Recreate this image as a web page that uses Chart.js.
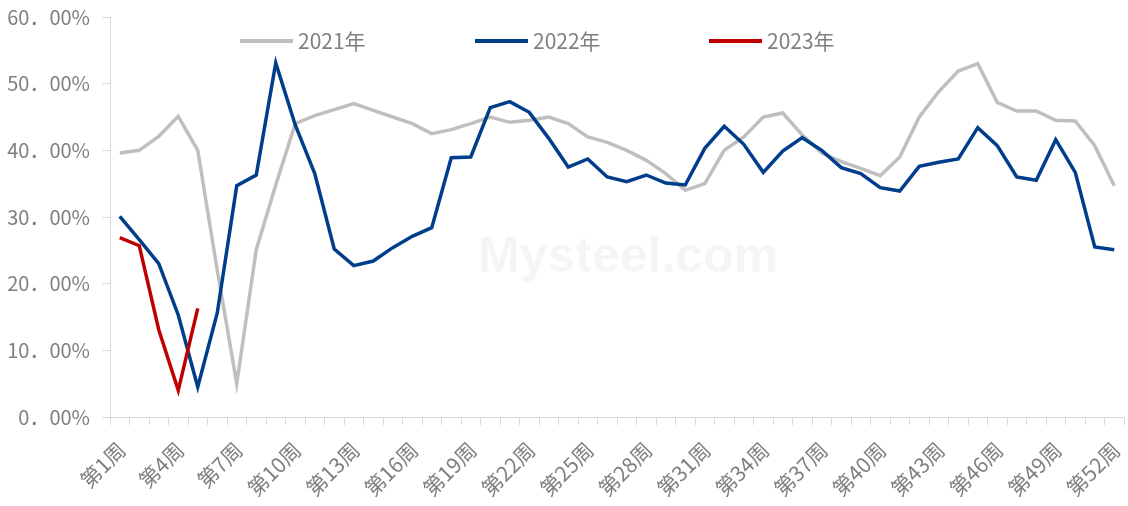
<!DOCTYPE html>
<html>
<head>
<meta charset="utf-8">
<script src="https://cdn.jsdelivr.net/npm/chart.js@4"></script>
<style>
  html, body { margin: 0; padding: 0; background: #fff; }
  #wrap { width: 1128px; height: 506px; }
</style>
</head>
<body>
<div id="wrap"><canvas id="chart"></canvas></div>
<script>
// weeks 1..52
const weeks = [];
for (let i = 1; i <= 52; i++) weeks.push('第' + i + '周');

const series2021 = [39.6, 40.0, 42.1, 45.1, 40.0, 22.0, 5.0, 25.1, 34.8, 44.0,
  45.2, 46.1, 47.0, 46.0, 45.0, 44.0, 42.5, 43.1, 44.0, 45.0,
  44.2, 44.5, 45.0, 44.0, 42.0, 41.2, 40.0, 38.5, 36.5, 34.0,
  35.0, 40.0, 42.0, 45.0, 45.6, 42.3, 39.6, 38.3, 37.3, 36.2,
  39.0, 45.0, 48.8, 51.9, 53.0, 47.2, 45.9, 45.9, 44.5, 44.4,
  40.7, 34.7];
const series2022 = [30.1, 26.6, 23.0, 15.3, 4.5, 15.6, 34.7, 36.3, 53.1, 43.8,
  36.5, 25.2, 22.7, 23.4, 25.4, 27.1, 28.4, 38.9, 39.0, 46.4,
  47.3, 45.7, 41.8, 37.5, 38.7, 36.0, 35.3, 36.3, 35.1, 34.8,
  40.3, 43.6, 40.9, 36.7, 39.9, 41.9, 40.0, 37.4, 36.5, 34.4,
  33.9, 37.6, 38.2, 38.7, 43.4, 40.7, 36.0, 35.5, 41.6, 36.7,
  25.5, 25.1];
const series2023 = [26.9, 25.7, 13.1, 4.0, 16.3];

const seriesNames = ['2021年', '2022年', '2023年'];
const seriesColors = ['#bfbfbf', '#003e8c', '#c00000'];
const yTicks = [0, 10, 20, 30, 40, 50, 60];

const gray = '#7f7f7f';
const cjk = '"Noto Sans CJK SC", "Noto Sans", sans-serif';

// faint watermark + legend drawn inside the plot area, like the original
const legendXs = [240, 475, 709];
const watermark = {
  id: 'watermark',
  beforeDatasetsDraw(chart) {
    const ctx = chart.ctx;
    ctx.save();
    ctx.font = 'bold 50px "Liberation Sans", sans-serif';
    ctx.fillStyle = 'rgba(0,0,0,0.04)';
    ctx.textBaseline = 'alphabetic';
    ctx.fillText('Mysteel.com', 478, 272);
    ctx.restore();
  }
};
const legendPlugin = {
  id: 'innerLegend',
  afterDraw(chart) {
    const ctx = chart.ctx;
    ctx.save();
    ctx.font = '21px ' + cjk;
    ctx.fillStyle = gray;
    ctx.textBaseline = 'middle';
    seriesNames.forEach((name, i) => {
      const x = legendXs[i];
      const y = 41;
      ctx.strokeStyle = seriesColors[i];
      ctx.lineWidth = 4;
      ctx.beginPath();
      ctx.moveTo(x, y);
      ctx.lineTo(x + 53, y);
      ctx.stroke();
      ctx.fillText(name, x + 58, y);
    });
    ctx.restore();
  }
};

const makeSet = (i, data, order) => ({
  label: seriesNames[i],
  data: data,
  borderColor: seriesColors[i],
  backgroundColor: seriesColors[i],
  borderWidth: 3.5,
  pointRadius: 0,
  fill: false,
  tension: 0,
  order: order
});

new Chart(document.getElementById('chart'), {
  type: 'line',
  data: {
    labels: weeks,
    datasets: [
      makeSet(0, series2021, 2),
      makeSet(1, series2022, 1),
      makeSet(2, series2023, 0)
    ]
  },
  options: {
    responsive: true,
    maintainAspectRatio: false,
    animation: false,
    layout: { padding: { top: 17, right: 4, left: 0, bottom: 0 } },
    plugins: {
      legend: { display: false },
      tooltip: { enabled: false }
    },
    scales: {
      x: {
        offset: true,
        grid: {
          display: true,
          offset: true,
          drawOnChartArea: false,
          drawTicks: true,
          tickLength: 8,
          color: '#d9d9d9'
        },
        border: { color: '#d9d9d9', width: 1 },
        ticks: {
          autoSkip: false,
          maxRotation: 45,
          minRotation: 45,
          color: gray,
          font: { family: cjk, size: 21 },
          padding: 12,
          labelOffset: 2,
          callback: function(v, i) { return i % 3 === 0 ? weeks[i] : ''; }
        },
        afterFit: s => {
          s.height = 89;
          s.paddingLeft = 0;
          s.paddingRight = 0;
        }
      },
      y: {
        min: 0,
        max: 60,
        afterBuildTicks: s => { s.ticks = yTicks.map(v => ({ value: v })); },
        grid: {
          display: true,
          drawOnChartArea: false,
          drawTicks: true,
          tickLength: 8,
          color: '#d9d9d9'
        },
        border: { color: '#d9d9d9', width: 1 },
        ticks: {
          color: gray,
          font: { family: cjk, size: 20 },
          padding: 12,
          callback: v => v.toFixed(2).replace('.', '．') + '%'
        },
        afterFit: s => {
          s.width = 110;
          s.paddingTop = 0;
          s.paddingBottom = 0;
        }
      }
    }
  },
  plugins: [watermark, legendPlugin]
});
</script>
</body>
</html>
